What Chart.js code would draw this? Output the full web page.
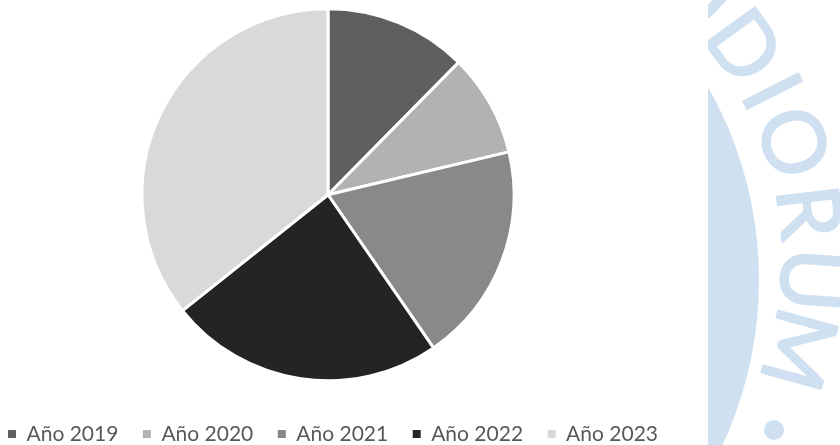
<!DOCTYPE html>
<html>
<head>
<meta charset="utf-8">
<script src="https://cdn.jsdelivr.net/npm/chart.js@4"></script>
<style>
  html, body { margin: 0; padding: 0; background: #ffffff; overflow: hidden; }
  #wrap { position: relative; width: 840px; height: 445px; }
</style>
</head>
<body>
<div id="wrap"><canvas id="c"></canvas></div>
<script>
// ---- data ----
const categories = ['Año 2019', 'Año 2020', 'Año 2021', 'Año 2022', 'Año 2023'];
const values = [12.4, 8.9, 19.1, 23.9, 35.7];
const sliceColors = ['#5f5f5f', '#b2b2b2', '#898989', '#242424', '#d9d9d9'];

// decorative watermark (background of the source document)
const watermarkLetters = ['U', 'D', 'I', 'O', 'R', 'U', 'M'];
const watermarkAngles = [-47, -35.8, -27.2, -18.4, -6.9, 4.0, 15.3];

const WM = '#cfe0f1';
const watermark = {
  id: 'watermark',
  beforeDraw(chart) {
    const ctx = chart.ctx;
    ctx.save();
    ctx.beginPath();
    ctx.rect(708, 0, 140, 445);
    ctx.clip();
    ctx.fillStyle = WM;
    // big inner disc of the seal
    ctx.beginPath();
    ctx.arc(368, 280, 391, 0, Math.PI * 2);
    ctx.fill();
    // letters on the ring
    const cx = 454, cy = 255, r = 358;
    ctx.font = '86px Lato';
    ctx.textAlign = 'center';
    ctx.textBaseline = 'alphabetic';
    ctx.strokeStyle = WM;
    ctx.lineWidth = 2;
    ctx.lineJoin = 'round';
    watermarkLetters.forEach((ch, i) => {
      const a = watermarkAngles[i] * Math.PI / 180;
      const m = ctx.measureText(ch);
      const off = (m.actualBoundingBoxAscent - m.actualBoundingBoxDescent) / 2;
      ctx.save();
      ctx.translate(cx + r * Math.cos(a), cy + r * Math.sin(a));
      ctx.rotate(a + Math.PI / 2);
      ctx.fillText(ch, 0, off);
      ctx.strokeText(ch, 0, off);
      ctx.restore();
    });
    // dot
    ctx.beginPath();
    ctx.arc(774, 430, 10, 0, Math.PI * 2);
    ctx.fill();
    ctx.restore();
  }
};

// place the legend and the pie where the reference has them
const placement = {
  id: 'placement',
  afterLayout(chart) {
    const lg = chart.legend;
    lg.left -= 20; lg.right -= 20;
    lg.top += 9.5; lg.bottom += 9.5;
  },
  beforeDatasetsDraw(chart) { chart.ctx.save(); chart.ctx.translate(-25, 0); },
  afterDatasetsDraw(chart) { chart.ctx.restore(); }
};

new Chart(document.getElementById('c'), {
  type: 'pie',
  data: {
    labels: categories,
    datasets: [{
      data: values,
      backgroundColor: sliceColors,
      borderColor: '#ffffff',
      borderWidth: 3,
      hoverOffset: 0,
      radius: 186
    }]
  },
  plugins: [watermark, placement],
  options: {
    responsive: true,
    maintainAspectRatio: false,
    animation: false,
    events: [],
    layout: { padding: { top: 0, left: 0, right: 134, bottom: 0 } },
    plugins: {
      tooltip: { enabled: false },
      legend: {
        position: 'bottom',
        labels: {
          font: { family: 'Lato', size: 21 },
          color: '#595959',
          boxWidth: 8,
          boxHeight: 8,
          padding: 24.5,
          generateLabels(chart) {
            const items = Chart.overrides.pie.plugins.legend.labels.generateLabels(chart);
            items.forEach(it => { it.lineWidth = 0; it.strokeStyle = 'rgba(0,0,0,0)'; });
            return items;
          }
        }
      }
    }
  }
});
</script>
</body>
</html>
